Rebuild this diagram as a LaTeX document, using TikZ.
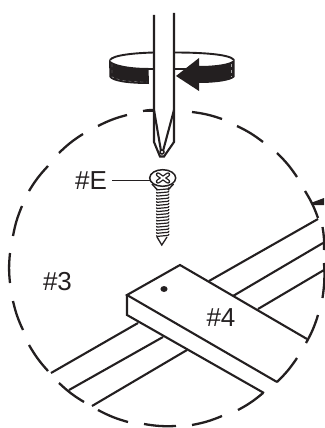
\documentclass[tikz,border=0pt]{standalone}
\usepackage{fontspec}
\setmainfont{Liberation Sans}
\definecolor{ink}{HTML}{231F20}
\tikzset{
  ring/.style={ink,line width=2.3pt,line cap=butt},
  edge/.style={ink,line width=2.1pt,line join=miter},
  label/.style={ink,font=\fontsize{26}{26}\selectfont,inner sep=0pt,anchor=center},
}
\begin{document}
\begin{tikzpicture}[x=1pt,y=-1pt]
\useasboundingbox (0,0) rectangle (324,428);
% dashed circle, clockwise on screen
\foreach \ax/\ay/\bx/\by in {
  10/283/10/253, 13/236/22/206, 29/191/48/166, 59/153/83/134, 98/126/127/115,
  143/111/153/110, 192/112/222/119, 237/126/263/142, 277/153/297/177, 305/191/318/218,
  322.5/227/324/250, 324/263/322.5/298, 318/315/306/343, 297/358/277/382, 263/393/238/410,
  222/416/192/425, 176/426/144/424, 128/422/98/410, 84/402/59/383, 48/371/29/345, 23/330/13/301}
  \draw[ring] (\ax,\ay) to[bend left=6] (\bx,\by);
% wedge at right edge
\fill[ink] (312,202.5) -- (324,198) -- (324,205) -- (313,205) -- cycle;
% rails
\draw[edge] (138,323) -- (51,373);
\draw[edge] (163,337) -- (69,390);
\draw[edge] (187,350) -- (92,406);
\draw[edge] (209,281) -- (318,219);
\draw[edge] (233,296) -- (323,243);
\draw[edge] (258,309) -- (324,270);
% board
\draw[edge] (307,339) -- (180,265) -- (127,295) -- (277,382);
\draw[edge] (127,295) -- (127,315) -- (264,393);
\fill[ink] (164,289) ellipse (3.6 and 3);
% screwdriver
\draw[edge] (154,15) -- (154,142) -- (160,156.5) -- (164,156.5) -- (174,142) -- (174,13);
\draw[edge] (154,110) -- (161,151);
\draw[edge] (174,110) -- (163,151);
\filldraw[ink,fill=white,line width=1.5pt] (162,152) circle (2);
\draw[edge] (143,111) -- (154,111);
% rotation arrow
\draw[edge,line width=1.9pt] (110,60) .. controls (113,55) and (135,53) .. (154,52.5);
\draw[edge,line width=1.9pt] (174,52.5) .. controls (200,52.5) and (230,54) .. (234,60);
\draw[edge,line width=1.9pt] (148,69) -- (154,69);
\draw[edge,line width=1.9pt] (174,69) -- (187,69);
\fill[ink] (109,59.5) .. controls (112,65) and (130,68) .. (148.5,68) -- (149,84)
  .. controls (130,84) and (112,82) .. (109.5,77) -- cycle;
\fill[ink] (176,76) -- (199,58) -- (199,66) .. controls (215,66) and (231,64) .. (234.5,59.5)
  -- (234.5,77) .. controls (231,81) and (215,83) .. (199,83) -- (199,91) -- cycle;
\draw[gray!70,line width=0.3pt,dashed] (112,64) -- (112,77) .. controls (120,81) and (135,82) .. (147,82);
\draw[gray!70,line width=0.3pt,dashed] (231,64) -- (231,77);
% screw
\fill[white] (157.3,186) rectangle (167.7,237);
\foreach \t in {188,191.1,...,236}
  \draw[ink,line width=1.2pt,rounded corners=1pt] (157,\t+1) -- (156,\t+2) -- (169,\t+0.8) -- (168.8,\t-0.6);
\draw[ink,line width=1.3pt] (157,237) -- (161.8,245) -- (167,237);
\draw[ink,line width=1.4pt] (152,184) -- (157.5,190);
\draw[ink,line width=1.4pt] (173.5,184) -- (168,190);
\filldraw[ink,fill=white,line width=1.5pt] (162.7,178) ellipse (13 and 8.3);
\draw[ink,line width=4.4pt,line cap=round] (158,174.5) -- (168,181.5) (158,181.5) -- (168,174.5);
\draw[white,line width=1.8pt,line cap=round] (158,174.5) -- (168,181.5) (158,181.5) -- (168,174.5);
% leader and labels
\node[label] (e) at (91,180.5) {\#E};
\coordinate (screwhead) at (150,180.5);
\draw[ink,line width=1.5pt] (112,180.5) -- (screwhead);
\node[label] (three) at (57.5,282) {\#3};
\node[label] (four) at (221,318) {\#4};
\end{tikzpicture}
\end{document}
